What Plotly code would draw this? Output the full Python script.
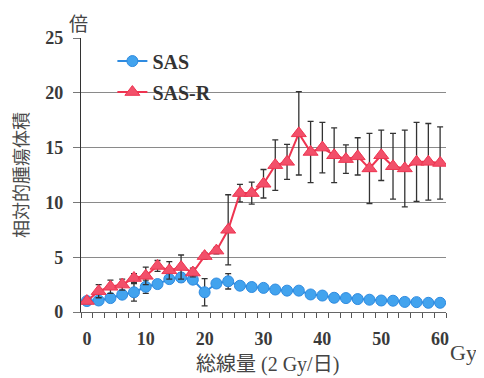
import plotly.graph_objects as go

dose = list(range(0, 61, 2))
sas = [1.0, 1.05, 1.27, 1.58, 1.8, 2.3, 2.55, 3.0, 3.15, 2.95, 1.8, 2.6, 2.8, 2.4, 2.28, 2.2,
       2.05, 1.95, 1.95, 1.6, 1.5, 1.3, 1.27, 1.18, 1.12, 1.05, 1.03, 0.92, 0.9, 0.84, 0.84]
sas_err = [0.2, 0.3, 0.3, 0.3, 0.8, 0.6, 0.3, 0.3, 0.4, 0.3, 1.25, 0.3, 0.7, 0.3, 0.2, 0.2,
           0.2, 0.2, 0.2, 0.2, 0.2, 0.2, 0.2, 0.2, 0.2, 0.2, 0.2, 0.2, 0.2, 0.2, 0.2]
sasr = [1.0, 1.9, 2.3, 2.5, 3.1, 3.3, 4.2, 3.8, 4.1, 3.6, 5.1, 5.6, 7.5, 10.85, 10.85, 11.7,
        13.4, 13.7, 16.3, 14.6, 15.0, 14.3, 13.95, 14.2, 13.1, 14.3, 13.3, 13.1, 13.7, 13.7, 13.6]
sasr_err = [0.2, 0.6, 0.6, 0.5, 0.4, 0.8, 0.5, 0.8, 1.1, 0.4, 0.3, 0.3, 3.2, 0.8, 1.0, 1.3,
            2.3, 1.6, 3.8, 2.8, 2.3, 2.5, 1.3, 1.7, 3.2, 2.3, 3.0, 3.5, 3.6, 3.5, 3.3]
xticks = [0, 10, 20, 30, 40, 50, 60]
yticks = [0, 5, 10, 15, 20, 25]

fig = go.Figure()
fig.add_trace(go.Scatter(
    x=dose, y=sas, name="<b>SAS</b>", mode="lines+markers", legendgroup="a",
    line=dict(color="#2f8be0", width=2),
    marker=dict(symbol="circle", size=11, color="#42a3ee", line=dict(color="#2f8be0", width=1)),
    error_y=dict(type="data", array=sas_err, color="#333333", thickness=1.3, width=3),
))
fig.add_trace(go.Scatter(
    x=dose, y=sasr, name="<b>SAS-R</b>", mode="lines+markers", legendgroup="b",
    line=dict(color="#ee3450", width=2),
    marker=dict(symbol="triangle-up", size=13, color="#f2506a", line=dict(color="#ee3450", width=1)),
    error_y=dict(type="data", array=sasr_err, color="#333333", thickness=1.3, width=3),
))

tickfont = dict(family="Liberation Serif", size=18, color="#3a3a3a")
fig.update_layout(
    width=476, height=370,
    margin=dict(l=73, r=38, t=30, b=66, autoexpand=False),
    paper_bgcolor="white", plot_bgcolor="white",
    showlegend=True,
    legend=dict(x=0.086, y=0.987, xanchor="left", yanchor="top",
                font=dict(family="Liberation Serif", size=20, color="#333333"),
                bgcolor="rgba(0,0,0,0)", tracegroupgap=2, itemwidth=30),
    xaxis=dict(range=[-1, 61], tickvals=xticks, ticktext=[f"<b>{v}</b>" for v in xticks],
               ticks="", showgrid=False, zeroline=False, showline=True, automargin=False,
               linecolor="#666666", linewidth=1, tickfont=tickfont, ticklabelstandoff=10,
               minor=dict(tickvals=list(range(-1, 62, 2)), ticks="outside", ticklen=5,
                          tickcolor="#555555", showgrid=False)),
    yaxis=dict(range=[0, 25], tickvals=yticks, ticktext=[f"<b>{v}</b>" for v in yticks],
               ticks="outside", ticklen=7, tickcolor="#777777", automargin=False,
               showgrid=True, gridcolor="#8a8a8a", gridwidth=1, zeroline=False,
               showline=True, linecolor="#333333", linewidth=1.2, tickfont=tickfont,
               ticklabelstandoff=6),
)

cjk = "Noto Sans CJK JP"
fig.add_annotation(text="相対的腫瘍体積", xref="paper", yref="paper", x=-0.167, y=0.5,
                   xanchor="center", yanchor="middle",
                   textangle=-90, showarrow=False, font=dict(family=cjk, size=18, color="#4a4a4a"))
fig.add_annotation(text="倍", xref="paper", yref="paper", x=-0.008, y=1.058,
                   xanchor="center", yanchor="middle",
                   showarrow=False, font=dict(family=cjk, size=19, color="#444444"))
fig.add_annotation(text="総線量 (2 Gy/日)", xref="paper", yref="paper", x=0.512, y=-0.19,
                   xanchor="center", yanchor="middle",
                   showarrow=False, font=dict(family="Liberation Serif, Noto Sans CJK JP", size=20, color="#444444"))
fig.add_annotation(text="Gy", xref="paper", yref="paper", x=1.047, y=-0.146,
                   xanchor="center", yanchor="middle",
                   showarrow=False, font=dict(family="Liberation Serif", size=22, color="#444444"))

fig.write_html("out.html")
